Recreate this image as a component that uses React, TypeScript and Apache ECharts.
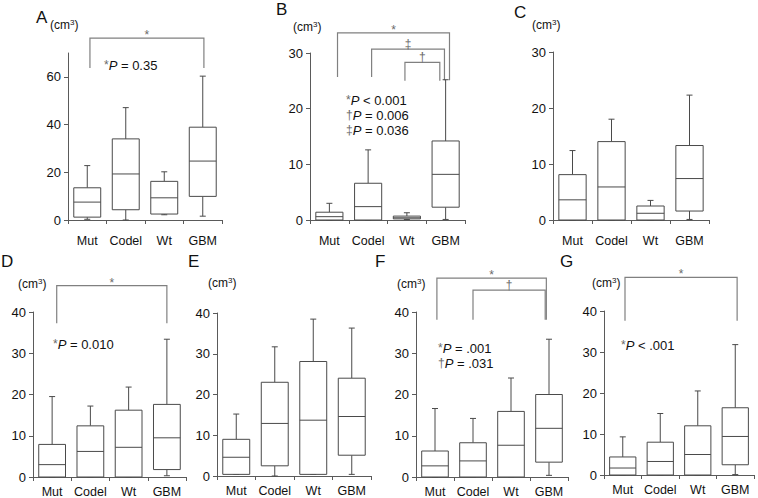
import React, { useEffect, useRef } from 'react';
import * as echarts from 'echarts';

const FONT = "'Liberation Sans', Arial, Helvetica, sans-serif";

const categories = ['Mut', 'Codel', 'Wt', 'GBM'];

// each row: [min, Q1, median, Q3, max] in cm³, order Mut, Codel, Wt, GBM
const boxesA = [[0.3, 1.2, 7.5, 13.5, 22.8], [0, 4.3, 19.3, 34.0, 47.1], [2.2, 2.5, 9.3, 16.2, 20.2], [1.6, 9.9, 24.7, 38.9, 60.3]];
const boxesB = [[0, 0, 0.6, 1.4, 3.0], [0, 0, 2.4, 6.6, 12.6], [0.1, 0.2, 0.4, 0.7, 1.3], [0.1, 2.3, 8.2, 14.2, 25.2]];
const boxesC = [[0, 0, 3.6, 8.1, 12.4], [0, 0, 5.9, 14.0, 18.0], [0, 0, 1.2, 2.5, 3.5], [0.1, 1.6, 7.4, 13.3, 22.3]];
const boxesD = [[0, 0, 3.0, 7.9, 19.5], [0, 0, 6.2, 12.4, 17.2], [0, 0, 7.2, 16.2, 21.8], [0.3, 1.8, 9.5, 17.6, 33.4]];
const boxesE = [[0.4, 0.4, 4.6, 9.0, 15.2], [0, 2.5, 12.9, 23.0, 31.7], [0.4, 0.4, 13.7, 28.1, 38.5], [0.4, 5.1, 14.6, 24.0, 36.3]];
const boxesF = [[0, 0, 2.7, 6.3, 16.6], [0, 0, 3.9, 8.3, 14.2], [0, 0, 7.7, 15.9, 24.0], [0.4, 3.6, 11.8, 20.0, 33.4]];
const boxesG = [[0, 0, 1.7, 4.4, 9.3], [0, 0, 3.3, 8.0, 15.0], [0, 0, 5.0, 12.0, 20.5], [0.1, 2.5, 9.4, 16.4, 31.8]];

// y-axis tick labels and axis maxima
const ticksA = [0, 20, 40, 60];
const ticksBC = [0, 10, 20, 30];
const ticksDG = [0, 10, 20, 30, 40];
const maxA = 70;
const maxBC = 30;
const maxDG = 40;

// significance brackets: [from category pos, to category pos, top value, left leg end, right leg end, mark]
const bracketsA = [[0.07, 3.03, 76.2, 63.7, 63.7, '*']];
const bracketsB = [
  [0.21, 3.1, 33.6, 25.7, 25.1, '*'],
  [1.09, 2.97, 30.7, 25.7, 25.1, '‡'],
  [1.95, 2.85, 28.3, 25.0, 25.0, '†'],
];
const bracketsC: any[] = [];
const bracketsD = [[0.12, 3.0, 46.4, 37.3, 37.3, '*']];
const bracketsE: any[] = [];
const bracketsF = [
  [0.05, 2.93, 48.2, 38.1, 38.1, '*'],
  [1.0, 2.9, 45.3, 38.1, 38.1, '†'],
];
const bracketsG = [[0.06, 3.05, 48.2, 37.6, 37.6, '*']];

// P-value annotation texts
const pTextA = ['{s|*}{i|P} = 0.35'];
const pTextB = ['{s|*}{i|P} < 0.001', '{s|†}{i|P} = 0.006', '{s|‡}{i|P} = 0.036'];
const pTextD = ['{s|*}{i|P} = 0.010'];
const pTextF = ['{s|*}{i|P} = .001', '{s|†}{i|P} = .031'];
const pTextG = ['{s|*}{i|P} < .001'];

const panels = [
  { letter: 'A', boxes: boxesA, ticks: ticksA, max: maxA, brackets: bracketsA, p: pTextA,
    grid: { left: 68, top: 53, width: 154, height: 167 }, labelMargin: 14,
    letterPos: [36, 17], unitPos: [50, 25], pPos: [104, 65] },
  { letter: 'B', boxes: boxesB, ticks: ticksBC, max: maxBC, brackets: bracketsB, p: pTextB,
    grid: { left: 310, top: 53, width: 155, height: 167 }, labelMargin: 14,
    letterPos: [276, 9], unitPos: [293, 27], pPos: [346, 100] },
  { letter: 'C', boxes: boxesC, ticks: ticksBC, max: maxBC, brackets: bracketsC, p: [],
    grid: { left: 553, top: 52, width: 156, height: 168 }, labelMargin: 14,
    letterPos: [514, 12], unitPos: [532, 25], pPos: [0, 0] },
  { letter: 'D', boxes: boxesD, ticks: ticksDG, max: maxDG, brackets: bracketsD, p: pTextD,
    grid: { left: 33, top: 312, width: 153, height: 165 }, labelMargin: 8,
    letterPos: [1, 261], unitPos: [18, 284], pPos: [53, 344] },
  { letter: 'E', boxes: boxesE, ticks: ticksDG, max: maxDG, brackets: bracketsE, p: [],
    grid: { left: 217, top: 313, width: 154, height: 163 }, labelMargin: 8,
    letterPos: [188, 261], unitPos: [208, 283], pPos: [0, 0] },
  { letter: 'F', boxes: boxesF, ticks: ticksDG, max: maxDG, brackets: bracketsF, p: pTextF,
    grid: { left: 416, top: 312, width: 152, height: 165 }, labelMargin: 8,
    letterPos: [375, 261], unitPos: [397, 284], pPos: [438, 348] },
  { letter: 'G', boxes: boxesG, ticks: ticksDG, max: maxDG, brackets: bracketsG, p: pTextG,
    grid: { left: 604, top: 311, width: 150, height: 164 }, labelMargin: 8,
    letterPos: [560, 261], unitPos: [592, 283], pPos: [621, 345] },
];

const AXIS = '#5a5a5a';
const BOX = '#4a4a4a';
const BRACKET = '#808080';

export default function App() {
  const ref = useRef<HTMLDivElement>(null);

  useEffect(() => {
    if (!ref.current) return;
    const chart = echarts.init(ref.current, undefined, { renderer: 'svg' });

    const grid: any[] = [];
    const xAxis: any[] = [];
    const yAxis: any[] = [];
    const series: any[] = [];
    const graphic: any[] = [];

    panels.forEach((p, k) => {
      grid.push({ ...p.grid, containLabel: false });
      xAxis.push({
        gridIndex: k,
        type: 'category',
        data: categories,
        boundaryGap: true,
        axisLine: { show: true, lineStyle: { color: AXIS, width: 1 } },
        axisTick: { show: true, length: 4, interval: 0, lineStyle: { color: AXIS } },
        axisLabel: { interval: 0, margin: p.labelMargin, fontSize: 12.5, color: '#111', fontFamily: FONT, hideOverlap: false },
        splitLine: { show: false },
      });
      yAxis.push({
        gridIndex: k,
        type: 'value',
        min: 0,
        max: p.max,
        axisLine: { show: true, lineStyle: { color: AXIS, width: 1 } },
        axisTick: { show: true, length: 4, customValues: p.ticks, lineStyle: { color: AXIS } },
        axisLabel: { customValues: p.ticks, margin: 7, fontSize: 13, color: '#111', fontFamily: FONT },
        splitLine: { show: false },
      });

      const boxes = p.boxes;
      series.push({
        type: 'custom',
        xAxisIndex: k,
        yAxisIndex: k,
        clip: false,
        encode: { x: 0, y: [1, 2, 3, 4, 5] },
        data: boxes.map((b, i) => [i, ...b]),
        renderItem: (params: any, api: any) => {
          const i = api.value(0);
          const cx = api.coord([i, 0])[0];
          const bw = api.size([1, 0])[0];
          const hw = bw * 0.35;
          const cap = 3;
          const yv = (d: number) => api.coord([i, api.value(d)])[1];
          const yMin = yv(1), yQ1 = yv(2), yMed = yv(3), yQ3 = yv(4), yMax = yv(5);
          const st = { stroke: BOX, fill: 'none', lineWidth: 1 };
          return {
            type: 'group',
            children: [
              { type: 'line', shape: { x1: cx, y1: yQ3, x2: cx, y2: yMax }, style: st },
              { type: 'line', shape: { x1: cx - cap, y1: yMax, x2: cx + cap, y2: yMax }, style: st },
              { type: 'line', shape: { x1: cx, y1: yQ1, x2: cx, y2: yMin }, style: st },
              { type: 'line', shape: { x1: cx - cap, y1: yMin, x2: cx + cap, y2: yMin }, style: st },
              { type: 'rect', shape: { x: cx - hw, y: yQ3, width: 2 * hw, height: yQ1 - yQ3 }, style: { stroke: BOX, fill: '#fff', lineWidth: 1 } },
              { type: 'line', shape: { x1: cx - hw, y1: yMed, x2: cx + hw, y2: yMed }, style: st },
            ],
          };
        },
        silent: true,
        z: 3,
      });

      if (p.brackets.length) {
        const br = p.brackets;
        series.push({
          type: 'custom',
          xAxisIndex: k,
          yAxisIndex: k,
          clip: false,
          data: br.map((b: any, i: number) => [i, b[2]]),
          encode: { x: 0, y: 1 },
          renderItem: (params: any, api: any) => {
            const b = br[params.dataIndex];
            const bw = api.size([1, 0])[0];
            const xAt = (pos: number) => {
              const i = Math.floor(pos);
              return api.coord([i, 0])[0] + (pos - i) * bw;
            };
            const yAt = (v: number) => api.coord([0, v])[1];
            const x1 = xAt(b[0]);
            const x2 = xAt(b[1]);
            const yt = yAt(b[2]);
            const yl = yAt(b[3]);
            const yr = yAt(b[4]);
            return {
              type: 'group',
              children: [
                { type: 'polyline', shape: { points: [[x1, yl], [x1, yt], [x2, yt], [x2, yr]] }, style: { stroke: BRACKET, fill: 'none', lineWidth: 1.2 } },
                { type: 'text', x: (x1 + x2) / 2, y: yt + (b[5] === '*' ? 3 : 1), style: { text: b[5], fill: '#6a6a6a', fontSize: 12, fontFamily: FONT, align: 'center', verticalAlign: 'bottom' } },
              ],
            };
          },
          silent: true,
          z: 2,
        });
      }

      graphic.push({
        type: 'text', x: p.letterPos[0], y: p.letterPos[1],
        style: { text: p.letter, fontSize: 17, fontFamily: FONT, fill: '#111', align: 'left', verticalAlign: 'middle' },
      });
      graphic.push({
        type: 'text', x: p.unitPos[0], y: p.unitPos[1],
        style: {
          text: '(cm{sup|3})', fontSize: 12, fontFamily: FONT, fill: '#111', align: 'left', verticalAlign: 'middle', lineHeight: 14,
          rich: { sup: { fontSize: 8, fontFamily: FONT, fill: '#111', verticalAlign: 'top', lineHeight: 10, padding: [0, 0, 4, 0] } },
        },
      });
      p.p.forEach((t, j) => {
        graphic.push({
          type: 'text', x: p.pPos[0], y: p.pPos[1] + j * 15,
          style: {
            text: t, fontSize: 13, fontFamily: FONT, fill: '#111', align: 'left', verticalAlign: 'middle', lineHeight: 15,
            rich: {
              s: { fontSize: 12, fontFamily: FONT, fill: '#6a6a6a', lineHeight: 15 },
              i: { fontSize: 13, fontFamily: FONT, fontStyle: 'italic', fill: '#111', lineHeight: 15 },
            },
          },
        });
      });
    });

    chart.setOption({
      animation: false,
      backgroundColor: '#fff',
      textStyle: { fontFamily: FONT },
      grid,
      xAxis,
      yAxis,
      series,
      graphic,
    });

    return () => chart.dispose();
  }, []);

  return <div ref={ref} style={{ position: 'fixed', left: 0, top: 0, width: 758, height: 498 }} />;
}
